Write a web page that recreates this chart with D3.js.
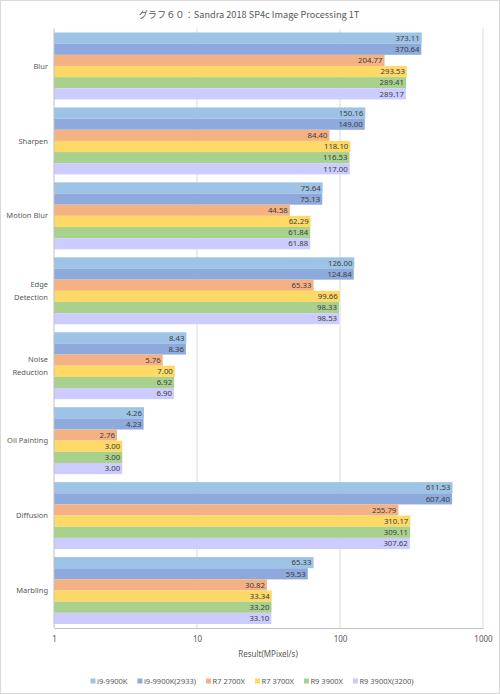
<!DOCTYPE html>
<html><head><meta charset="utf-8">
<script src="https://cdn.jsdelivr.net/npm/d3@7"></script>
<style>body{margin:0;background:#fff}svg{display:block}</style>
</head><body>
<script>
const categories = ["Blur","Sharpen","Motion Blur","Edge\nDetection","Noise\nReduction","Oil Painting","Diffusion","Marbling"];
const seriesNames = ["i9-9900K","i9-9900K(2933)","R7 2700X","R7 3700X","R9 3900X","R9 3900X(3200)"];
const colors = ["#9DC3E6","#8EA9DB","#F4B183","#FFD966","#A9D18E","#CCCCFF"];
const s_i9 = [373.11,150.16,75.64,126.00,8.43,4.26,611.53,65.33];
const s_i9_2933 = [370.64,149.00,75.13,124.84,8.36,4.23,607.40,59.53];
const s_r7_2700x = [204.77,84.40,44.58,65.33,5.76,2.76,255.79,30.82];
const s_r7_3700x = [293.53,118.10,62.29,99.66,7.00,3.00,310.17,33.34];
const s_r9_3900x = [289.41,116.53,61.84,98.33,6.92,3.00,309.11,33.20];
const s_r9_3900x_3200 = [289.17,117.00,61.88,98.53,6.90,3.00,307.62,33.10];
const tickValues = [1,10,100,1000];
const title = "グラフ６０：Sandra 2018 SP4c Image Processing 1T";
const axisTitle = "Result(MPixel/s)";

const series = [s_i9,s_i9_2933,s_r7_2700x,s_r7_3700x,s_r9_3900x,s_r9_3900x_3200];
const W=500,H=694;
const cjk = "'Noto Sans CJK JP', 'Noto Sans', sans-serif";
const font = "'Noto Sans', 'Open Sans', sans-serif";
const svg = d3.select("body").append("svg").attr("width",W).attr("height",H).style("font-family",font);
svg.append("rect").attr("x",0.5).attr("y",0.5).attr("width",W-1).attr("height",H-1).attr("fill","#fff").attr("stroke","#d9d9d9");

const x = d3.scaleLog().domain([1,1000]).range([54,483]);
const y = d3.scaleBand().domain(categories).range([28.5,628]).paddingInner(0.107).paddingOuter(0.0535);
const yi = d3.scaleBand().domain(d3.range(series.length)).range([0,y.bandwidth()]);

svg.append("text").attr("x",249).attr("y",18).attr("text-anchor","middle").attr("font-size",9.2)
  .attr("font-family",cjk).attr("fill","#595959").text(title);

// gridlines
svg.append("g").selectAll("line").data(tickValues.slice(1)).join("line")
  .attr("x1",d=>x(d)).attr("x2",d=>x(d)).attr("y1",28.5).attr("y2",628).attr("stroke","#d9d9d9");

const g = svg.append("g");
categories.forEach((c,ci)=>{
  series.forEach((s,si)=>{
    const v=s[ci];
    const y0=y(c)+yi(si);
    g.append("rect").attr("x",x(1)).attr("y",y0).attr("width",x(v)-x(1)).attr("height",yi.bandwidth()).attr("fill",colors[si]);
    g.append("text").attr("x",x(v)-2).attr("y",y0+yi.bandwidth()/2).attr("dy","0.35em").attr("text-anchor","end")
      .attr("font-size",7.8).attr("fill","#404040").text(v.toFixed(2));
  });
  const lines=c.split("\n");
  const t=svg.append("text").attr("text-anchor","end").attr("font-size",7.5).attr("fill","#595959");
  const cy=y(c)+y.bandwidth()/2;
  lines.forEach((l,li)=>{
    t.append("tspan").attr("x",48).attr("y",cy+(li-(lines.length-1)/2)*13).attr("dy","0.35em").text(l);
  });
});

// axes
const xAxis = d3.axisBottom(x).tickValues(tickValues).tickFormat(d3.format("d")).tickSize(0).tickPadding(8);
const ax = svg.append("g").attr("transform","translate(0,628)").call(xAxis);
ax.select(".domain").attr("stroke","#bfbfbf");
ax.selectAll("text").attr("font-size",8).attr("fill","#595959").attr("font-family",font);
svg.append("line").attr("x1",54).attr("x2",54).attr("y1",28.5).attr("y2",628).attr("stroke","#bfbfbf");

svg.append("text").attr("x",268).attr("y",657).attr("text-anchor","middle").attr("font-size",8).attr("fill","#595959").text(axisTitle);

// legend
const leg = svg.append("g");
let lx = 0;
seriesNames.forEach((n,i)=>{
  const it=leg.append("g").attr("transform",`translate(${lx},0)`);
  it.append("rect").attr("x",0).attr("y",-2.5).attr("width",5).attr("height",5).attr("fill",colors[i]);
  const tx=it.append("text").attr("x",6.5).attr("y",0).attr("dy","0.35em").attr("font-size",7.5).attr("fill","#595959").text(n);
  lx += 6.5 + tx.node().getComputedTextLength() + 10;
});
const lw = lx-10;
leg.attr("transform",`translate(${(W-lw)/2+2},681)`);
</script>
</body></html>
